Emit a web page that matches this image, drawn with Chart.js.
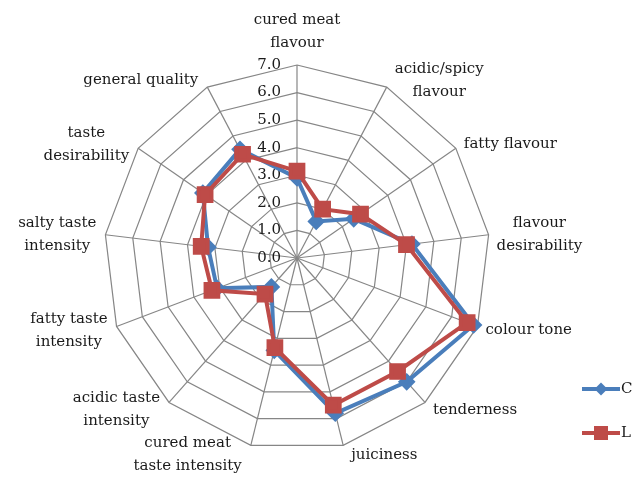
<!DOCTYPE html>
<html>
<head>
<meta charset="utf-8">
<script src="https://cdn.jsdelivr.net/npm/chart.js@4/dist/chart.umd.min.js"></script>
<style>
  html, body { margin: 0; padding: 0; background: #fff; overflow: hidden; }
  #wrap { width: 632px; height: 478px; }
</style>
</head>
<body>
<div id="wrap"><canvas id="radarChart" width="632" height="478"></canvas></div>
<script>
var categories = [
    ["cured meat", "flavour"],
    ["acidic/spicy", "flavour"],
    ["fatty flavour"],
    ["flavour", "desirability"],
    ["colour tone"],
    ["tenderness"],
    ["juiciness"],
    ["cured meat", "taste intensity"],
    ["acidic taste", "intensity"],
    ["fatty taste", "intensity"],
    ["salty taste", "intensity"],
    ["taste", "desirability"],
    ["general quality"]
];
var seriesNames = ["C", "L"];
var valuesC = [2.9, 1.5, 2.5, 4.2, 6.85, 6.0, 5.8, 3.45, 1.4, 3.1, 3.25, 4.15, 4.45];
var valuesL = [3.15, 2.0, 2.8, 4.0, 6.6, 5.5, 5.5, 3.35, 1.75, 3.3, 3.5, 4.05, 4.25];
var tickValues = [0, 1, 2, 3, 4, 5, 6, 7];

var labelFont = "DejaVu Serif";
var blue = "#4a7ebb";
var red = "#be4b48";
var textColor = "#1a1a1a";

// tick labels sit left of the vertical axis, like the original
var tickLabelPlugin = {
    id: 'tickLabelPlugin',
    beforeDatasetsDraw: function (chart) {
        var scale = chart.scales.r;
        var ctx = chart.ctx;
        ctx.save();
        ctx.font = "15px '" + labelFont + "'";
        ctx.fillStyle = textColor;
        ctx.textAlign = "right";
        ctx.textBaseline = "middle";
        for (var i = 0; i < tickValues.length; i++) {
            var d = scale.getDistanceFromCenterForValue(tickValues[i]);
            ctx.fillText(tickValues[i].toFixed(1), scale.xCenter - 16, scale.yCenter - d);
        }
        ctx.restore();
    }
};

// category labels placed next to the outer vertex (Excel style)
var pointLabelPlugin = {
    id: 'pointLabelPlugin',
    afterDraw: function (chart) {
        var scale = chart.scales.r;
        var ctx = chart.ctx;
        var lh = 23.5;
        ctx.save();
        ctx.font = "15px '" + labelFont + "'";
        ctx.fillStyle = textColor;
        ctx.textBaseline = "middle";
        ctx.textAlign = "center";
        for (var i = 0; i < categories.length; i++) {
            var lines = categories[i];
            var a = scale.getIndexAngle(i);
            var p = scale.getPointPosition(i, scale.drawingArea);
            var s = Math.sin(a), c = Math.cos(a);
            var h = lines.length * lh;
            var w = 0;
            for (var k = 0; k < lines.length; k++) {
                w = Math.max(w, ctx.measureText(lines[k]).width);
            }
            var cx, cy;
            if (Math.abs(s) < 0.05) {
                cx = p.x;
                cy = c > 0 ? p.y - 10 - h / 2 : p.y + 10 + h / 2;
            } else if (s > 0) {
                cx = p.x + 8 + w / 2;
                cy = p.y - 8.5 * c + 1;
            } else {
                cx = p.x - 9 - w / 2;
                cy = p.y - 8.5 * c + 1;
            }
            for (var k = 0; k < lines.length; k++) {
                ctx.fillText(lines[k], cx, cy - h / 2 + lh / 2 + k * lh);
            }
        }
        ctx.restore();
    }
};

// legend: line with marker, at the right edge
var legendPlugin = {
    id: 'legendPlugin',
    afterDraw: function (chart) {
        var ctx = chart.ctx;
        var ys = [389, 433];
        ctx.save();
        for (var i = 0; i < chart.data.datasets.length; i++) {
            var ds = chart.data.datasets[i];
            var y = ys[i];
            ctx.strokeStyle = ds.borderColor;
            ctx.lineWidth = 4;
            ctx.beginPath();
            ctx.moveTo(582, y);
            ctx.lineTo(620, y);
            ctx.stroke();
            ctx.fillStyle = ds.pointBackgroundColor;
            if (ds.pointStyle == 'rectRot') {
                ctx.beginPath();
                ctx.moveTo(601, y - 6.5);
                ctx.lineTo(607.5, y);
                ctx.lineTo(601, y + 6.5);
                ctx.lineTo(594.5, y);
                ctx.closePath();
                ctx.fill();
            } else {
                ctx.fillRect(594, y - 7, 14, 14);
            }
            ctx.fillStyle = textColor;
            ctx.font = "15px '" + labelFont + "'";
            ctx.textAlign = "left";
            ctx.textBaseline = "middle";
            ctx.fillText(ds.label, 621, y);
        }
        ctx.restore();
    }
};

new Chart("radarChart", {
    type: "radar",
    data: {
        labels: categories,
        datasets: [{
            label: seriesNames[0],
            data: valuesC,
            order: 1,
            borderColor: blue,
            backgroundColor: "rgba(0,0,0,0)",
            pointBackgroundColor: blue,
            pointBorderColor: blue,
            pointStyle: 'rectRot',
            pointRadius: 6,
            borderWidth: 4,
            fill: false
        }, {
            label: seriesNames[1],
            data: valuesL,
            order: 0,
            borderColor: red,
            backgroundColor: "rgba(0,0,0,0)",
            pointBackgroundColor: red,
            pointBorderColor: red,
            pointStyle: 'rect',
            pointRadius: 9,
            borderWidth: 4,
            fill: false
        }]
    },
    options: {
        responsive: false,
        animation: false,
        layout: { padding: { left: 0, right: 38, top: 65, bottom: 27 } },
        plugins: {
            legend: { display: false },
            tooltip: { enabled: false }
        },
        elements: { line: { tension: 0 } },
        scales: {
            r: {
                min: 0,
                max: 7,
                beginAtZero: true,
                ticks: { stepSize: 1, display: false },
                grid: { color: "#868686", lineWidth: 1.2, circular: false },
                angleLines: { color: "#868686", lineWidth: 1.2 },
                pointLabels: { display: false }
            }
        }
    },
    plugins: [tickLabelPlugin, pointLabelPlugin, legendPlugin]
});
</script>
</body>
</html>
